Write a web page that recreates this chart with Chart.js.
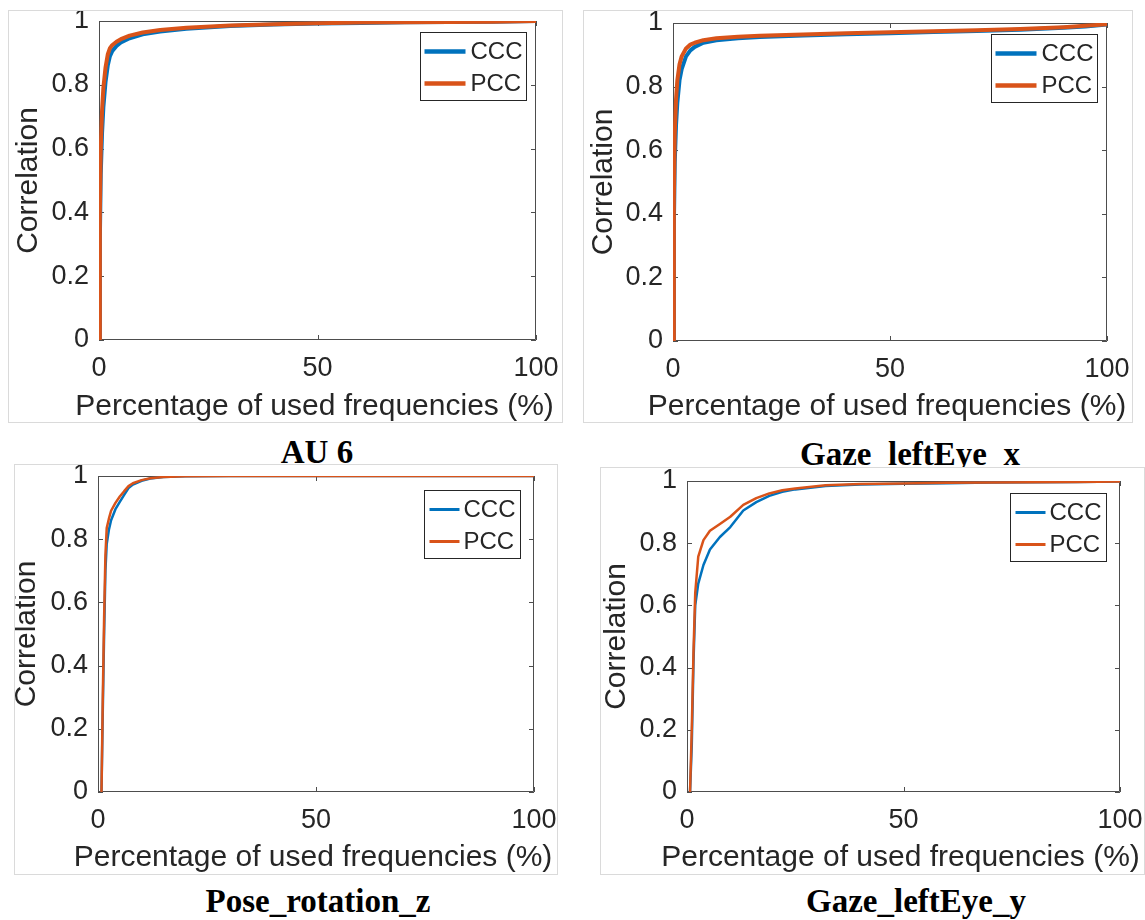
<!DOCTYPE html>
<html>
<head>
<meta charset="utf-8">
<script src="https://cdn.jsdelivr.net/npm/chart.js@4/dist/chart.umd.min.js"></script>
<style>
  body { margin: 0; background: #fff; }
  #page { position: relative; width: 1145px; height: 920px; overflow: hidden; background: #fff; }
  .panel { position: absolute; border: 1px solid #dadada; background: #fff; }
  .panel canvas { display: block; }
  .caption {
    position: absolute;
    font: bold 33px "Liberation Serif", "Times New Roman", serif;
    line-height: 33px;
    white-space: nowrap;
    transform: translateX(-50%);
    color: #000;
  }
</style>
</head>
<body>
<div id="page">
  <div class="caption" style="left:317px; top:436px">AU 6</div>
  <div class="caption" style="left:910px; top:438px">Gaze_leftEye_x</div>
  <div class="panel" style="left:8px; top:10px"><canvas id="au6" width="553" height="411"></canvas></div>
  <div class="panel" style="left:583px; top:10px"><canvas id="gazeX" width="548" height="411"></canvas></div>
  <div class="panel" style="left:14px; top:464px"><canvas id="poseZ" width="542" height="409"></canvas></div>
  <div class="panel" style="left:600px; top:467px"><canvas id="gazeY" width="543" height="406"></canvas></div>
  <div class="caption" style="left:318px; top:885px">Pose_rotation_z</div>
  <div class="caption" style="left:916px; top:885px">Gaze_leftEye_y</div>
</div>
<script>
// ticks and series shared by the four plots
const xTicks = [0, 50, 100];
const yTicks = [0, 0.2, 0.4, 0.6, 0.8, 1];
const seriesNames = ['CCC', 'PCC'];
const seriesColors = ['#0072BD', '#D95319'];
const xLabel = 'Percentage of used frequencies (%)';
const yLabel = 'Correlation';

// AU 6
const au6Freq = [0, 0.2, 0.4, 0.7, 1, 1.5, 2, 2.5, 3, 4, 5, 7, 10, 14, 20, 30, 40, 50, 60, 70, 80, 90, 100];
const au6Pcc = [0, 0.40, 0.60, 0.72, 0.79, 0.855, 0.895, 0.915, 0.924, 0.935, 0.943, 0.954, 0.964, 0.972, 0.979, 0.986, 0.990, 0.993, 0.995, 0.996, 0.997, 0.998, 1.0];
const au6Ccc = [0, 0.32, 0.52, 0.65, 0.73, 0.81, 0.86, 0.89, 0.905, 0.922, 0.933, 0.946, 0.958, 0.967, 0.976, 0.984, 0.989, 0.992, 0.994, 0.996, 0.997, 0.998, 1.0];

// Gaze_leftEye_x
const gazeXFreq = [0, 0.2, 0.4, 0.7, 1, 1.5, 2, 3, 4, 5, 7, 10, 15, 20, 30, 40, 50, 60, 70, 80, 90, 95, 100];
const gazeXPcc = [0, 0.45, 0.65, 0.76, 0.82, 0.87, 0.895, 0.92, 0.932, 0.938, 0.946, 0.952, 0.957, 0.960, 0.964, 0.968, 0.971, 0.974, 0.977, 0.981, 0.987, 0.991, 0.996];
const gazeXCcc = [0, 0.36, 0.56, 0.68, 0.75, 0.82, 0.855, 0.895, 0.914, 0.925, 0.938, 0.946, 0.952, 0.956, 0.961, 0.965, 0.968, 0.972, 0.975, 0.979, 0.985, 0.989, 0.995];

// Pose_rotation_z
const poseZFreq = [0.8, 1.1, 1.4, 1.7, 2, 2.5, 3, 4, 5, 6, 7, 8, 10, 12, 15, 20, 30, 50, 75, 100];
const poseZPcc = [0, 0.3, 0.55, 0.75, 0.835, 0.865, 0.89, 0.915, 0.935, 0.952, 0.968, 0.977, 0.987, 0.993, 0.997, 0.999, 1, 1, 1, 1];
const poseZCcc = [0, 0.26, 0.5, 0.7, 0.785, 0.83, 0.86, 0.895, 0.918, 0.94, 0.962, 0.973, 0.985, 0.992, 0.997, 0.999, 1, 1, 1, 1];

// Gaze_leftEye_y
const gazeYFreq = [0.7, 1.1, 1.5, 1.9, 2.6, 3.8, 5.3, 7.6, 10, 13, 16, 19, 22, 25, 32, 40, 50, 60, 70, 80, 90, 100];
const gazeYPcc = [0, 0.2, 0.45, 0.64, 0.757, 0.81, 0.84, 0.862, 0.885, 0.923, 0.945, 0.96, 0.97, 0.976, 0.986, 0.99, 0.992, 0.994, 0.995, 0.996, 0.997, 0.998];
const gazeYCcc = [0, 0.15, 0.42, 0.6, 0.67, 0.73, 0.78, 0.82, 0.852, 0.905, 0.932, 0.952, 0.965, 0.973, 0.984, 0.989, 0.991, 0.993, 0.995, 0.996, 0.997, 0.998];

const FONT = '"Liberation Sans", Arial, Helvetica, sans-serif';
const TEXT = '#262626';
const AXIS = '#4d4d4d';

// box around the plot with inward ticks, the x label (wider than the plot,
// so not the scale title which would squeeze it), and a boxed legend
const matlabAxes = {
    id: 'matlabAxes',
    beforeDatasetsDraw(chart) {
        const { ctx, chartArea: a, scales: { x, y } } = chart;
        const tl = 5;
        ctx.save();
        ctx.strokeStyle = AXIS;
        ctx.lineWidth = 1;
        ctx.beginPath();
        ctx.rect(a.left + 0.5, a.top + 0.5, a.width - 1, a.height - 1);
        xTicks.forEach(v => {
            const px = Math.round(x.getPixelForValue(v)) + 0.5;
            ctx.moveTo(px, a.bottom); ctx.lineTo(px, a.bottom - tl);
            ctx.moveTo(px, a.top); ctx.lineTo(px, a.top + tl);
        });
        yTicks.forEach(v => {
            const py = Math.round(y.getPixelForValue(v)) + 0.5;
            ctx.moveTo(a.left, py); ctx.lineTo(a.left + tl, py);
            ctx.moveTo(a.right, py); ctx.lineTo(a.right - tl, py);
        });
        ctx.stroke();

        ctx.font = '30px ' + FONT;
        ctx.fillStyle = TEXT;
        ctx.textAlign = 'center';
        ctx.textBaseline = 'middle';
        ctx.fillText(xLabel, (a.left + a.right) / 2 - 3, chart.height - 15 - chart.options.plugins.matlabAxes.xTitlePad);
        ctx.restore();
    },
    afterDatasetsDraw(chart, args, opts) {
        const { ctx, chartArea: a } = chart;
        const sets = chart.data.datasets;
        ctx.save();
        ctx.font = '24px ' + FONT;
        const textW = Math.max(...sets.map(d => ctx.measureText(d.label).width));
        const w = opts.padL + opts.lineLen + opts.gap + textW + opts.padR;
        const h = 68;
        const bx = Math.round(a.right - opts.right - w) + 0.5;
        const by = Math.round(a.top + opts.top) + 0.5;
        ctx.fillStyle = '#fff';
        ctx.fillRect(bx, by, w, h);
        ctx.strokeStyle = TEXT;
        ctx.lineWidth = 1;
        ctx.strokeRect(bx, by, w, h);
        ctx.textBaseline = 'middle';
        sets.forEach((d, i) => {
            const ry = by + 19 + i * 32;
            ctx.strokeStyle = d.borderColor;
            ctx.lineWidth = d.borderWidth + 0.5;
            ctx.beginPath();
            ctx.moveTo(bx + opts.padL, ry);
            ctx.lineTo(bx + opts.padL + opts.lineLen, ry);
            ctx.stroke();
            ctx.fillStyle = TEXT;
            ctx.fillText(d.label, bx + opts.padL + opts.lineLen + opts.gap, ry + 1);
        });
        ctx.restore();
    }
};

function makePlot(id, freq, ccc, pcc, look) {
    const toPoints = ys => ys.map((v, i) => ({ x: freq[i], y: v }));
    return new Chart(document.getElementById(id), {
        type: 'line',
        data: {
            datasets: [
                { label: seriesNames[0], data: toPoints(ccc), borderColor: seriesColors[0], borderWidth: look.lineWidth, order: 1 },
                { label: seriesNames[1], data: toPoints(pcc), borderColor: seriesColors[1], borderWidth: look.lineWidth, order: 0 }
            ]
        },
        options: {
            responsive: false,
            animation: false,
            elements: {
                line: { tension: 0, fill: false, borderJoinStyle: 'round' },
                point: { radius: 0, hoverRadius: 0 }
            },
            layout: {
                autoPadding: false,
                padding: { top: look.top, right: look.right, left: 0, bottom: 0 }
            },
            plugins: {
                legend: { display: false },
                tooltip: { enabled: false },
                matlabAxes: { ...look.legend, xTitlePad: look.xTitlePad }
            },
            scales: {
                x: {
                    type: 'linear',
                    min: 0,
                    max: 100,
                    grid: { display: false, drawTicks: false },
                    border: { display: false },
                    afterBuildTicks: s => { s.ticks = xTicks.map(v => ({ value: v })); },
                    afterFit: s => {
                        s.height = look.bottom;
                        s.paddingLeft = 0;
                        s.paddingRight = 0;
                    },
                    ticks: {
                        font: { family: FONT, size: 27, lineHeight: 1.2 },
                        color: TEXT,
                        padding: 12,
                        maxRotation: 0,
                        autoSkip: false,
                        callback: v => String(v)
                    }
                },
                y: {
                    type: 'linear',
                    min: 0,
                    max: 1,
                    grid: { display: false, drawTicks: false },
                    border: { display: false },
                    afterBuildTicks: s => { s.ticks = yTicks.map(v => ({ value: v })); },
                    afterFit: s => {
                        s.width = look.left;
                        s.paddingTop = 0;
                        s.paddingBottom = 0;
                    },
                    ticks: {
                        font: { family: FONT, size: 27, lineHeight: 0.6 },
                        color: TEXT,
                        padding: 10,
                        autoSkip: false,
                        callback: v => String(v)
                    },
                    title: {
                        display: true,
                        text: yLabel,
                        font: { family: FONT, size: 30, lineHeight: 0.8 },
                        color: TEXT,
                        padding: { top: look.yTitlePad, bottom: 0 }
                    }
                }
            }
        },
        plugins: [matlabAxes]
    });
}

const thickLegend = { lineLen: 41, padL: 4, gap: 5, padR: 4, right: 10, top: 11 };
const thinLegend = { lineLen: 30, padL: 5, gap: 4, padR: 5, right: 14, top: 14 };

makePlot('au6', au6Freq, au6Ccc, au6Pcc, {
    left: 90, right: 26, top: 10, bottom: 82, xTitlePad: 0, yTitlePad: 8, lineWidth: 4,
    legend: thickLegend
});
makePlot('gazeX', gazeXFreq, gazeXCcc, gazeXPcc, {
    left: 89, right: 25, top: 12, bottom: 81, xTitlePad: 0, yTitlePad: 8, lineWidth: 4,
    legend: thickLegend
});
makePlot('poseZ', poseZFreq, poseZCcc, poseZPcc, {
    left: 83, right: 23, top: 11, bottom: 82, xTitlePad: 1, yTitlePad: 0, lineWidth: 2.5,
    legend: thinLegend
});
makePlot('gazeY', gazeYFreq, gazeYCcc, gazeYPcc, {
    left: 86, right: 24, top: 13, bottom: 82, xTitlePad: 1, yTitlePad: 4, lineWidth: 2.5,
    legend: { ...thinLegend, top: 12 }
});
</script>
</body>
</html>
